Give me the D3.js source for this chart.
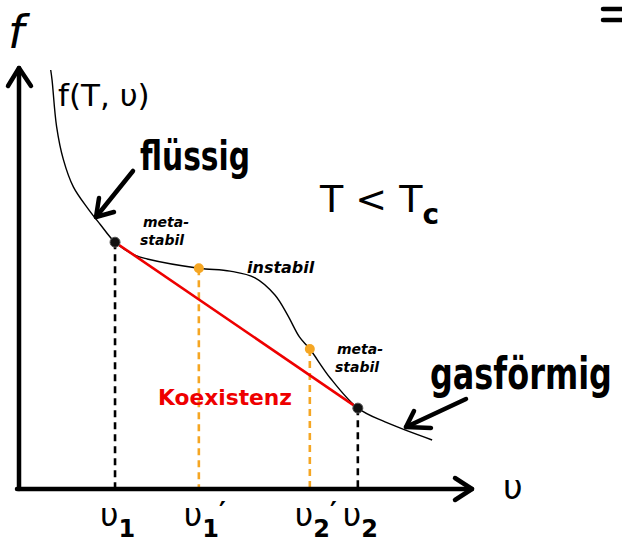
<!DOCTYPE html>
<html>
<head>
<meta charset="utf-8">
<script src="https://cdn.jsdelivr.net/npm/d3@7"></script>
<style>
  html, body { margin: 0; padding: 0; background: #fff; }
  svg { display: block; }
  text { font-family: "DejaVu Sans", sans-serif; }
</style>
</head>
<body>
<svg id="chart" width="622" height="546"></svg>
<script>
// Free energy f(T, v) below the critical temperature (arbitrary units)
const curveV = [0.70, 0.73, 0.83, 0.98, 1.20, 1.53, 1.79, 2.12, 2.56, 2.83, 3.97, 4.66, 5.21, 5.65, 5.93, 6.19, 6.42, 6.87, 7.48, 8.08, 9.12];
const curveF = [10.0, 9.76, 8.65, 7.86, 7.21, 6.68, 6.32, 5.89, 5.58, 5.49, 5.27, 5.20, 5.04, 4.63, 4.15, 3.63, 3.34, 2.65, 1.93, 1.60, 1.17];

// Coexistence points (double tangent) and spinodal points
const tangentV = [2.12, 7.48];
const tangentF = [5.89, 1.93];
const spinodalV = [3.97, 6.42];
const spinodalF = [5.27, 3.34];

// Tick labels on the v axis
const tickNames = ["υ", "υ", "υ", "υ"];
const tickSubs = ["1", "1", "2", "2"];
const tickPrimes = ["", "′", "′", ""];
const tickV = [2.12, 3.97, 6.42, 7.48];

const svg = d3.select("#chart");
const x = d3.scaleLinear().domain([0, 10]).range([19, 472]);
const y = d3.scaleLinear().domain([0, 10]).range([489, 70]);

const ink = "#000";
const red = "#ee0000";
const orange = "#f5a623";

// Text squeezed horizontally to a given width (keeps glyph shapes, narrower letters)
function fitText(str, px, py, size, width, color) {
  const g = svg.append("g").attr("transform", `translate(${px},${py})`);
  const t = g.append("text").attr("font-size", size).attr("font-weight", "bold")
    .attr("fill", color).text(str);
  const w = t.node().getComputedTextLength();
  t.attr("transform", `scale(${width / w},1)`);
  return t;
}

// Vertical dashed drop lines
const drops = [
  { v: tangentV[0], f: tangentF[0], c: ink },
  { v: spinodalV[0], f: spinodalF[0], c: orange },
  { v: spinodalV[1], f: spinodalF[1], c: orange },
  { v: tangentV[1], f: tangentF[1], c: ink }
];
svg.selectAll("line.drop").data(drops).join("line")
  .attr("class", "drop")
  .attr("x1", d => x(d.v)).attr("x2", d => x(d.v))
  .attr("y1", d => y(d.f)).attr("y2", y(0))
  .attr("stroke", d => d.c).attr("stroke-width", 2.6)
  .attr("stroke-dasharray", "7,5");

// Axes
const axis = svg.append("g").attr("stroke", ink).attr("stroke-width", 4.5)
  .attr("stroke-linecap", "round").attr("stroke-linejoin", "round").attr("fill", "none");
axis.append("line").attr("x1", x(0)).attr("x2", x(0)).attr("y1", y(0)).attr("y2", y(10) - 2);
axis.append("line").attr("x1", x(0) - 2).attr("x2", x(10)).attr("y1", y(0)).attr("y2", y(0));
axis.append("path").attr("d", `M${x(0) - 11},${y(10) + 16} L${x(0)},${y(10) - 2} L${x(0) + 12},${y(10) + 16}`);
axis.append("path").attr("d", `M${x(10) - 17},${y(0) - 11} L${x(10)},${y(0)} L${x(10) - 17},${y(0) + 11}`);

// Free energy curve
const pts = curveV.map((v, i) => [v, curveF[i]]);
svg.append("path")
  .attr("d", d3.line().x(d => x(d[0])).y(d => y(d[1])).curve(d3.curveCatmullRom.alpha(0.5))(pts))
  .attr("fill", "none").attr("stroke", ink).attr("stroke-width", 1.4);

// Double tangent (coexistence)
svg.append("line")
  .attr("x1", x(tangentV[0])).attr("y1", y(tangentF[0]))
  .attr("x2", x(tangentV[1])).attr("y2", y(tangentF[1]))
  .attr("stroke", red).attr("stroke-width", 2.6);

// Points
svg.selectAll("circle.sp").data(spinodalV).join("circle")
  .attr("cx", d => x(d)).attr("cy", (d, i) => y(spinodalF[i])).attr("r", 5)
  .attr("fill", orange);
svg.selectAll("circle.tg").data(tangentV).join("circle")
  .attr("cx", d => x(d)).attr("cy", (d, i) => y(tangentF[i])).attr("r", 5)
  .attr("fill", "#111").attr("stroke", "#555").attr("stroke-width", 1);

// Tick labels
const tl = svg.selectAll("text.tick").data(tickV).join("text")
  .attr("class", "tick")
  .attr("x", d => x(d) - 15).attr("y", 526)
  .attr("font-size", 32).attr("fill", ink);
tl.append("tspan").text((d, i) => tickNames[i]);
tl.append("tspan").attr("dy", 11).attr("font-size", 24).attr("font-weight", "bold")
  .text((d, i) => tickSubs[i]);
tl.append("tspan").attr("dy", -16).attr("font-size", 26).attr("font-weight", "bold")
  .text((d, i) => tickPrimes[i]);

// Axis labels
svg.append("text").attr("x", 503).attr("y", 499).attr("font-size", 34).attr("fill", ink).text("υ");
svg.append("text").attr("x", 8).attr("y", 48).attr("font-size", 46).attr("font-style", "italic")
  .attr("fill", ink).text("f");

// Annotations
svg.append("text").attr("x", 58).attr("y", 106).attr("font-size", 31).attr("fill", ink)
  .text("f(T, υ)");
fitText("flüssig", 140, 170, 40, 110, ink);
const tc = svg.append("text").attr("x", 320).attr("y", 212).attr("font-size", 38).attr("fill", ink);
tc.append("tspan").text("T < T");
tc.append("tspan").attr("dy", 12).attr("font-size", 28).attr("font-weight", "bold").text("c");
fitText("gasförmig", 430, 389, 44, 182, ink);
fitText("Koexistenz", 158, 405, 22, 134, red);

const small = [
  { t: "meta-", x: 143, y: 227 },
  { t: "stabil", x: 140, y: 245 },
  { t: "meta-", x: 337, y: 354 },
  { t: "stabil", x: 335, y: 372 }
];
svg.selectAll("text.small").data(small).join("text")
  .attr("x", d => d.x).attr("y", d => d.y).attr("font-size", 14).attr("font-weight", "bold")
  .attr("font-style", "italic").attr("fill", ink).text(d => d.t);
svg.append("text").attr("x", 247).attr("y", 273).attr("font-size", 16).attr("font-weight", "bold")
  .attr("font-style", "italic").attr("fill", ink).text("instabil");

// Pointer arrows
const arr = svg.append("g").attr("stroke", ink).attr("stroke-width", 4.5).attr("fill", "none")
  .attr("stroke-linecap", "round").attr("stroke-linejoin", "round");
arr.append("line").attr("x1", 133).attr("y1", 171).attr("x2", 96).attr("y2", 217);
arr.append("path").attr("d", "M99,198 L96,217 L114,212");
arr.append("line").attr("x1", 466).attr("y1", 399).attr("x2", 406).attr("y2", 427);
arr.append("path").attr("d", "M414,411 L406,427 L431,428");

// Equals mark at the top right edge
const eq = svg.append("g").attr("stroke", ink).attr("stroke-width", 4.5).attr("stroke-linecap", "round");
eq.append("line").attr("x1", 603).attr("x2", 624).attr("y1", 9).attr("y2", 9);
eq.append("line").attr("x1", 603).attr("x2", 624).attr("y1", 20).attr("y2", 20);
</script>
</body>
</html>
